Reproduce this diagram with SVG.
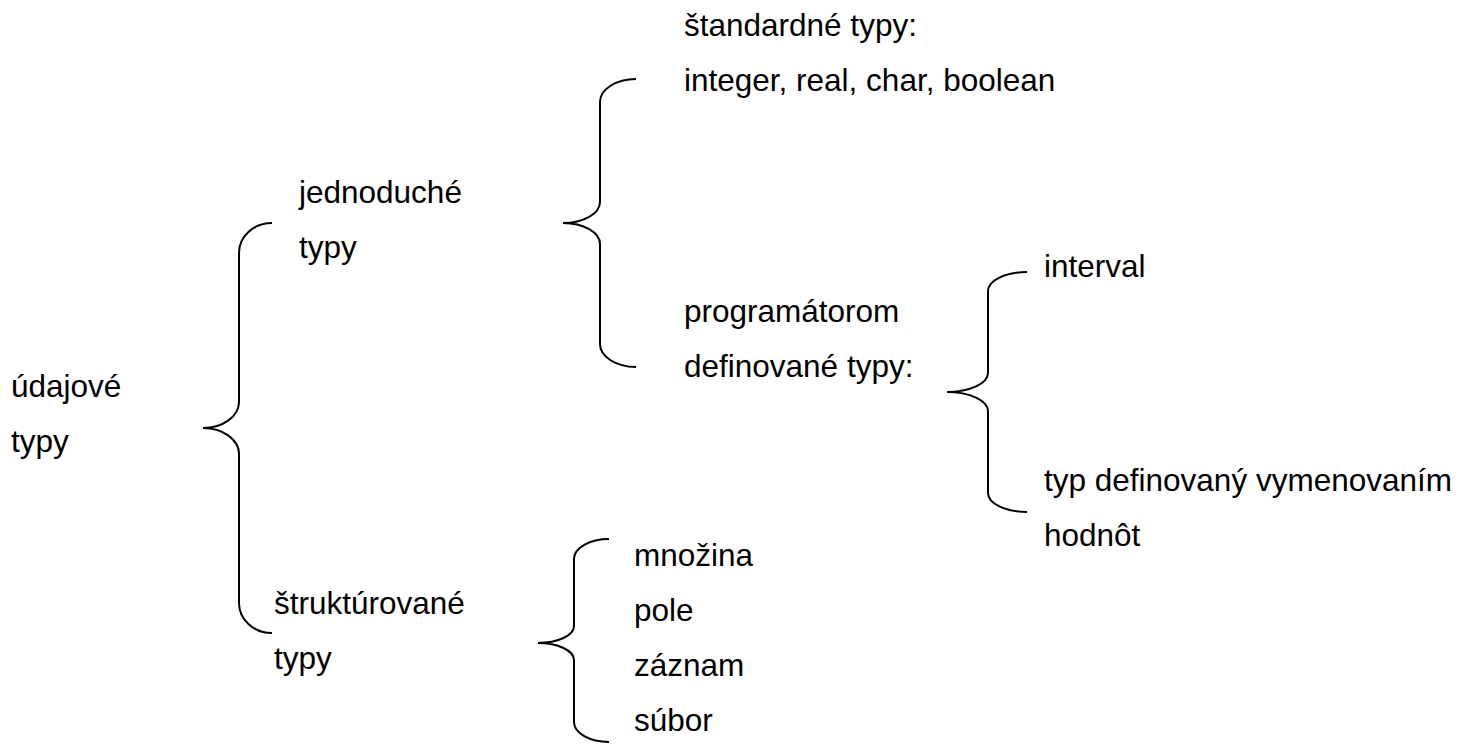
<svg xmlns="http://www.w3.org/2000/svg" width="1461" height="749" viewBox="0 0 1461 749">
<style>
  .t { font-family: "Liberation Sans", Arial, sans-serif; font-size: 31.5px; fill: #000; }
  .brace { fill: none; stroke: #000; stroke-width: 2; stroke-linecap: butt; }
</style>
<rect width="1461" height="749" fill="#fff"/>
<g id="connectors">
  <path class="brace" d="M272,223 A33,30 0 0 0 239,253 L239,402 A36,26 0 0 1 203,428 A36,26 0 0 1 239,454 L239,603 A33,30 0 0 0 272,633"/>
  <path class="brace" d="M636,79 A36,23 0 0 0 600,102 L600,202 A37,21 0 0 1 563,223 A37,21 0 0 1 600,244 L600,344 A36,23 0 0 0 636,367"/>
  <path class="brace" d="M1027,272 A39,19 0 0 0 988,291 L988,373 A41,19 0 0 1 947,392 A41,19 0 0 1 988,411 L988,493 A39,19 0 0 0 1027,512"/>
  <path class="brace" d="M609,539 A35,20 0 0 0 574,559 L574,626 A36,17 0 0 1 538,643 A36,17 0 0 1 574,660 L574,722 A35,20 0 0 0 609,742"/>
</g>
<g id="node-udajove-typy">
  <text class="t" x="11" y="397">údajové</text>
  <text class="t" x="11" y="452">typy</text>
</g>
<g id="node-jednoduche-typy">
  <text class="t" x="299" y="203">jednoduché</text>
  <text class="t" x="299" y="258">typy</text>
</g>
<g id="node-strukturovane-typy">
  <text class="t" x="274" y="614">štruktúrované</text>
  <text class="t" x="274" y="669">typy</text>
</g>
<g id="node-standardne-typy">
  <text class="t" x="684" y="36">štandardné typy:</text>
  <text class="t" x="684" y="91">integer, real, char, boolean</text>
</g>
<g id="node-programatorom-definovane">
  <text class="t" x="684" y="322">programátorom</text>
  <text class="t" x="684" y="377">definované typy:</text>
</g>
<g id="node-interval">
  <text class="t" x="1044" y="277">interval</text>
</g>
<g id="node-vymenovanim">
  <text class="t" x="1044" y="491">typ definovaný vymenovaním</text>
  <text class="t" x="1044" y="546">hodnôt</text>
</g>
<g id="node-mnozina">
  <text class="t" x="634" y="566">množina</text>
</g>
<g id="node-pole">
  <text class="t" x="634" y="621">pole</text>
</g>
<g id="node-zaznam">
  <text class="t" x="634" y="676">záznam</text>
</g>
<g id="node-subor">
  <text class="t" x="634" y="731">súbor</text>
</g>
</svg>
